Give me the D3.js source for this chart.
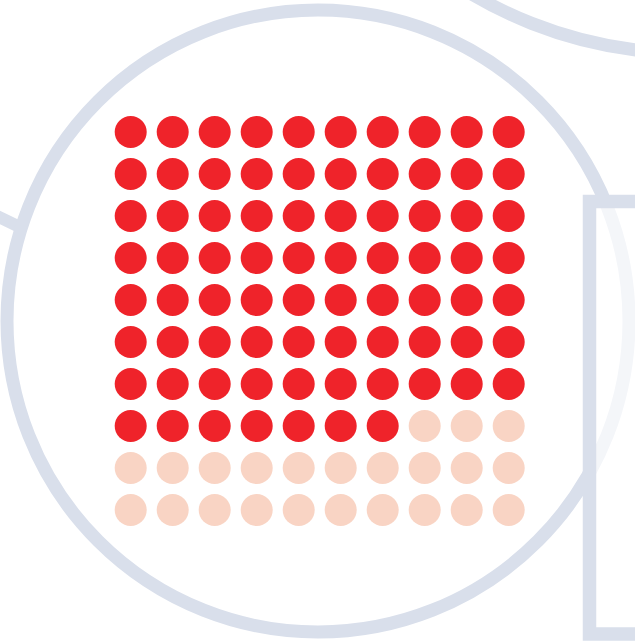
<!DOCTYPE html>
<html>
<head>
<meta charset="utf-8">
<script src="https://cdn.jsdelivr.net/npm/d3@7"></script>
<style>
  html, body { margin: 0; padding: 0; background: #fff; }
  svg { display: block; }
</style>
</head>
<body>
<div id="chart"></div>
<script>
const width = 635
const height = 641

// waffle data: share out of 100
const categories = ["share", "rest"]
const values = [77, 23]
const colors = ["#ef232a", "#f9d4c4"]
const nCols = 10
const nRows = 10

const deco = "#d9dfeb"

// one cell per unit, filled row by row
const cells = []
categories.forEach((c, k) => {
  for (let i = 0; i < values[k]; i++) cells.push({cat: c})
})
cells.forEach((d, i) => { d.col = i % nCols; d.row = Math.floor(i / nCols) })

const x = d3.scalePoint()
  .domain(d3.range(nCols))
  .range([130.7, 508.7])

const y = d3.scalePoint()
  .domain(d3.range(nRows))
  .range([132, 510])

const color = d3.scaleOrdinal()
  .domain(categories)
  .range(colors)

const svg = d3.select("#chart")
  .append("svg")
  .attr("width", width)
  .attr("height", height)
  .attr("viewBox", [0, 0, width, height])

// background decoration
svg.append("line")
  .attr("x1", -30).attr("y1", 203)
  .attr("x2", 30).attr("y2", 232)
  .attr("stroke", deco)
  .attr("stroke-width", 12)

svg.append("circle")
  .attr("cx", 687).attr("cy", -369).attr("r", 422)
  .attr("fill", "none")
  .attr("stroke", deco)
  .attr("stroke-width", 13)

svg.append("circle")
  .attr("cx", 318).attr("cy", 321).attr("r", 311)
  .attr("fill", "#fff")
  .attr("stroke", deco)
  .attr("stroke-width", 13)

svg.append("g")
  .selectAll("circle")
  .data(cells)
  .join("circle")
    .attr("cx", d => x(d.col))
    .attr("cy", d => y(d.row))
    .attr("r", 16)
    .attr("fill", d => color(d.cat))

svg.append("rect")
  .attr("x", 589.5).attr("y", 201.5)
  .attr("width", 100).attr("height", 432.5)
  .attr("fill", "#fff")
  .attr("fill-opacity", 0.7)
  .attr("stroke", deco)
  .attr("stroke-width", 13.5)
</script>
</body>
</html>
